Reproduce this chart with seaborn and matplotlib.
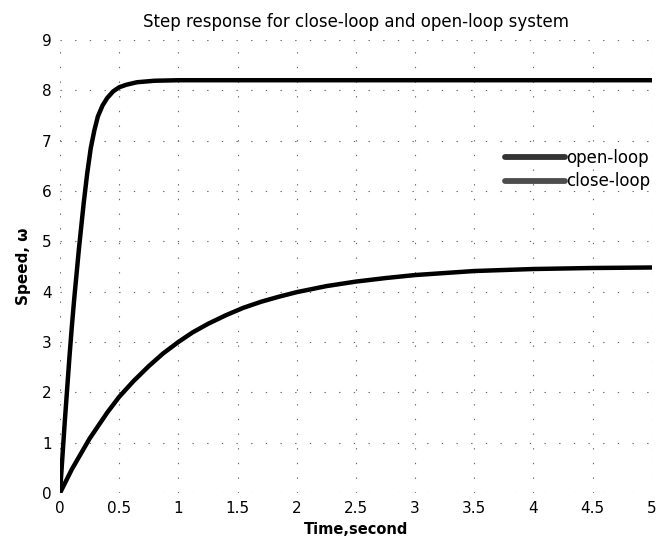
import numpy as np
import pandas as pd
import matplotlib
matplotlib.use("Agg")
import matplotlib.pyplot as plt
from matplotlib.lines import Line2D
import seaborn as sns

# Step response samples (time in seconds, speed)
t_close = [0, 0.02, 0.04, 0.06, 0.08, 0.1, 0.12, 0.14, 0.16, 0.18, 0.2,
           0.23, 0.26, 0.29, 0.32, 0.36, 0.4, 0.45, 0.5, 0.56, 0.65, 0.8,
           1.0, 1.5, 2.0, 3.0, 4.0, 5.0]
w_close = [0, 0.7, 1.4, 2.05, 2.7, 3.3, 3.85, 4.35, 4.85, 5.3, 5.75,
           6.35, 6.85, 7.2, 7.48, 7.7, 7.85, 7.98, 8.06, 8.11, 8.16, 8.19,
           8.2, 8.2, 8.2, 8.2, 8.2, 8.2]

t_open = [0, 0.1, 0.25, 0.4, 0.5, 0.62, 0.75, 0.87, 1.0, 1.12, 1.25, 1.4,
          1.55, 1.7, 1.85, 2.0, 2.25, 2.5, 2.75, 3.0, 3.25, 3.5, 4.0, 4.5, 5.0]
w_open = [0, 0.47, 1.08, 1.6, 1.91, 2.22, 2.52, 2.77, 3.0, 3.19, 3.36, 3.53,
          3.68, 3.8, 3.9, 3.99, 4.11, 4.2, 4.27, 4.33, 4.37, 4.41, 4.45, 4.47, 4.48]

x_ticks = [0, 0.5, 1, 1.5, 2, 2.5, 3, 3.5, 4, 4.5, 5]
x_tick_labels = ["0", "0.5", "1", "1.5", "2", "2.5", "3", "3.5", "4", "4.5", "5"]
y_ticks = [0, 1, 2, 3, 4, 5, 6, 7, 8, 9]

df = pd.concat([
    pd.DataFrame({"time": t_open, "speed": w_open, "system": "open-loop"}),
    pd.DataFrame({"time": t_close, "speed": w_close, "system": "close-loop"}),
], ignore_index=True)

sns.set_style("white")
plt.rcParams["font.family"] = ["DejaVu Sans"]
plt.rcParams["text.color"] = "black"
plt.rcParams["axes.labelcolor"] = "black"

fig = plt.figure(figsize=(6.62, 5.4), dpi=100)
ax = fig.add_axes([0.0906, 0.087, 0.894, 0.839])

sns.lineplot(data=df, x="time", y="speed", hue="system",
             palette={"open-loop": "black", "close-loop": "black"},
             linewidth=3.2, ax=ax, sort=False, estimator=None, legend=False)

ax.set_xlim(0, 5)
ax.set_ylim(0, 9)
ax.set_xticks(x_ticks)
ax.set_xticklabels(x_tick_labels)
ax.set_yticks(y_ticks)
ax.tick_params(axis="both", length=0, labelsize=11, colors="black")
ax.tick_params(axis="x", pad=6)
ax.tick_params(axis="y", pad=6)

for s in ax.spines.values():
    s.set_visible(False)

# faint, broken dotted grid
ax.grid(True, color="0.4", linestyle=(0, (1.2, 12)), linewidth=0.8)

ax.set_title("Step response for close-loop and open-loop system",
             fontsize=12, pad=9, color="black")
ax.set_xlabel("Time,second", fontsize=10.5, fontweight="bold", labelpad=4)
ax.set_ylabel("Speed, \u03c9", fontsize=11, fontweight="bold", labelpad=8)

handles = [Line2D([], [], color="0.2", linewidth=4.2),
           Line2D([], [], color="0.3", linewidth=4.2)]
leg = ax.legend(handles, ["open-loop", "close-loop"], frameon=False,
                loc="upper left", bbox_to_anchor=(0.74, 0.775),
                fontsize=12, handlelength=3.6, handletextpad=0.1,
                labelspacing=0.35, borderaxespad=0)
for txt in leg.get_texts():
    txt.set_color("black")

fig.savefig("out.png", dpi=100)
